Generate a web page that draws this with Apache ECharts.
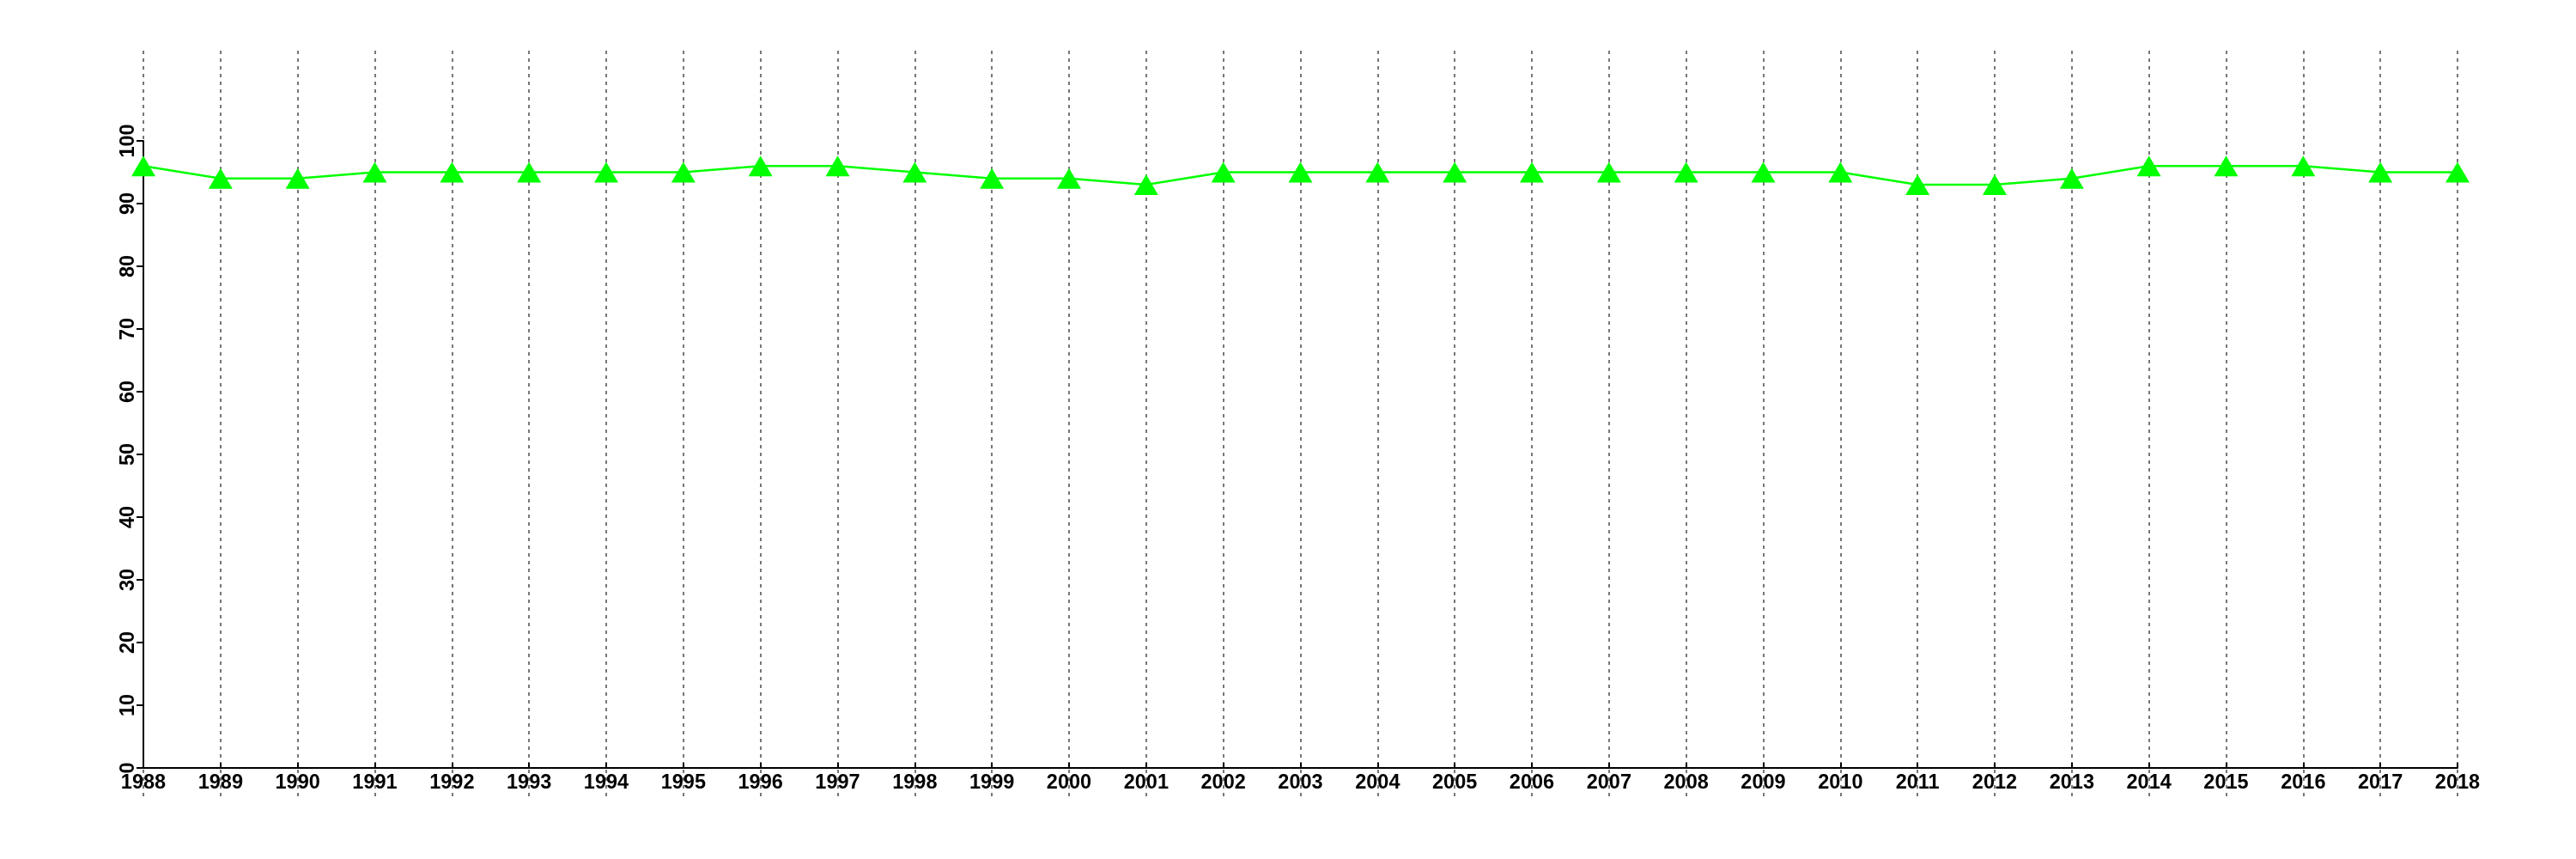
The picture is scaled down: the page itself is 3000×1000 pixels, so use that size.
<!DOCTYPE html>
<html><head><meta charset="utf-8">
<script src="https://cdn.jsdelivr.net/npm/echarts@6/dist/echarts.min.js"></script>
<style>html,body{margin:0;padding:0;background:#fff}#c{width:3000px;height:1000px}</style>
</head><body><div id="c"></div>
<script>
const years = ['1988','1989','1990','1991','1992','1993','1994','1995','1996','1997','1998','1999','2000','2001','2002','2003','2004','2005','2006','2007','2008','2009','2010','2011','2012','2013','2014','2015','2016','2017','2018'];
const values = [96,94,94,95,95,95,95,95,96,96,95,94,94,93,95,95,95,95,95,95,95,95,95,93,93,94,96,96,96,95,95];
const yTicks = [0,10,20,30,40,50,60,70,80,90,100];

const chart = echarts.init(document.getElementById('c'), null, {renderer:'canvas'});
const font = {fontFamily:'Liberation Sans', fontWeight:'bold', fontSize:23.5, color:'#000'};
chart.setOption({
  animation:false,
  grid:[
    {left:167, right:138, top:164, bottom:106},
    {left:167, right:138, top:59, bottom:73}
  ],
  xAxis:[
    {gridIndex:0, type:'category', data:years, boundaryGap:false,
     axisLine:{lineStyle:{color:'#000', width:2}},
     axisTick:{inside:true, length:6, lineStyle:{color:'#000', width:2}},
     axisLabel:Object.assign({margin:6, interval:0}, font),
     splitLine:{show:false}},
    {gridIndex:1, type:'category', data:years, boundaryGap:false,
     axisLine:{show:false}, axisTick:{show:false}, axisLabel:{show:false},
     splitLine:{show:true, interval:0, lineStyle:{color:'#777', width:2, type:[4,5]}}}
  ],
  yAxis:[
    {gridIndex:0, type:'value', min:0, max:100, interval:10,
     axisLine:{show:true, lineStyle:{color:'#000', width:2}},
     axisTick:{show:true, length:8, lineStyle:{color:'#000', width:2}},
     axisLabel:Object.assign({rotate:90, margin:5, formatter:function(v){return yTicks.indexOf(v)>=0?String(v):'';}}, font),
     splitLine:{show:false}},
    {gridIndex:1, type:'value', min:0, max:1, show:false, splitLine:{show:false}}
  ],
  series:[{
    type:'line', xAxisIndex:0, yAxisIndex:0, data:values,
    symbol:'triangle', symbolSize:[28,24],
    itemStyle:{color:'#00ff00'},
    lineStyle:{color:'#00ff00', width:2.5},
    z:5
  }]
});
</script></body></html>
